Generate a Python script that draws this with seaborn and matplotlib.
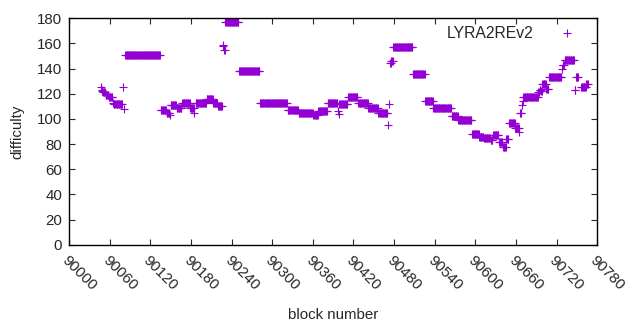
import numpy as np
import pandas as pd

import matplotlib
matplotlib.use("Agg")
import matplotlib.pyplot as plt
import matplotlib.transforms as mtransforms
import seaborn as sns

# ==========================================
# DATA (runs of equal difficulty)
# ==========================================

run_start = [90047, 90048, 90049, 90050, 90054, 90059, 90065, 90066, 90080, 90081,
             90083, 90135, 90144, 90149, 90150, 90159, 90167, 90179, 90185, 90187,
             90203, 90213, 90220, 90227, 90228, 90229, 90231, 90251, 90282, 90323,
             90339, 90361, 90368, 90382, 90397, 90398, 90399, 90412, 90427, 90442,
             90457, 90471, 90473, 90474, 90476, 90479, 90508, 90526, 90538, 90565,
             90575, 90595, 90606, 90613, 90623, 90626, 90635, 90641, 90646, 90650,
             90659, 90665, 90666, 90669, 90670, 90671, 90693, 90695, 90697, 90699,
             90705, 90709, 90728, 90729, 90732, 90747, 90749, 90756, 90764]
run_end = [90047, 90048, 90049, 90053, 90058, 90064, 90065, 90078, 90080, 90081,
           90134, 90143, 90148, 90149, 90158, 90166, 90178, 90184, 90185, 90202,
           90212, 90219, 90226, 90227, 90228, 90230, 90250, 90281, 90322, 90338,
           90360, 90367, 90381, 90396, 90397, 90398, 90411, 90426, 90441, 90456,
           90470, 90471, 90473, 90475, 90478, 90507, 90525, 90537, 90564, 90574,
           90594, 90605, 90612, 90622, 90625, 90634, 90640, 90645, 90649, 90658,
           90664, 90665, 90668, 90669, 90670, 90692, 90694, 90696, 90698, 90704,
           90708, 90727, 90728, 90731, 90746, 90748, 90752, 90763, 90766]
run_value = [125, 123, 122, 121, 119, 117, 113, 112, 125, 108,
             151, 107, 105, 103, 111, 109, 113, 109, 105, 113,
             116, 113, 110, 158, 159, 155, 177, 138, 113, 107,
             105, 103, 106, 113, 106, 104, 112, 117, 113, 109,
             105, 95, 112, 144, 146, 157, 136, 114, 109, 102,
             99, 88, 86, 85, 83, 87, 82, 78, 84, 97,
             93, 90, 105, 111, 114, 117, 121, 123, 122, 128,
             124, 133, 140, 143, 147, 123, 133, 125, 128]

blocks = np.concatenate([np.arange(s, e + 1) for s, e in zip(run_start, run_end)])
difficulty = np.concatenate([np.full(e - s + 1, v) for s, e, v in zip(run_start, run_end, run_value)])

df = pd.DataFrame({"block": blocks, "difficulty": difficulty})

x_ticks = list(range(90000, 90781, 60))
y_ticks = list(range(0, 181, 20))

# ==========================================
# PLOT
# ==========================================

sns.set_style("ticks")
plt.rcParams["font.family"] = ["Liberation Sans", "DejaVu Sans"]

fig = plt.figure(figsize=(6.4, 3.3), dpi=100)
ax = fig.add_axes([0.108, 0.258, 0.825, 0.687])

sns.scatterplot(
    data=df,
    x="block",
    y="difficulty",
    marker="+",
    s=28,
    linewidth=0.8,
    color="#9400d3",
    label="LYRA2REv2",
    ax=ax
)

ax.set_xlim(90000, 90780)
ax.set_ylim(0, 180)
ax.set_xticks(x_ticks)
ax.set_yticks(y_ticks)
ax.set_xticklabels([str(t) for t in x_ticks], rotation=-45, ha="left", va="top",
                   rotation_mode="anchor", fontsize=10.8)
ax.set_yticklabels([str(t) for t in y_ticks], fontsize=10.8)

# gnuplot puts the rotated labels just right of the tick
shift = mtransforms.ScaledTranslation(4 / 100, 0, fig.dpi_scale_trans)
for lbl in ax.get_xticklabels():
    lbl.set_transform(lbl.get_transform() + shift)

ax.tick_params(direction="in", length=4, width=0.8, top=True, right=True, pad=5)
ax.tick_params(axis="x", pad=6)
for sp in ax.spines.values():
    sp.set_linewidth(1.0)
    sp.set_color("black")

ax.set_xlabel("block number", fontsize=10.8, labelpad=11)
ax.set_ylabel("difficulty", fontsize=10.8, labelpad=9)

ax.legend(loc="center right", bbox_to_anchor=(0.973, 0.934), frameon=False,
          markerfirst=False, fontsize=11.3, handletextpad=1.17,
          borderaxespad=0, borderpad=0, markerscale=1.0)

fig.savefig("out.png", dpi=100)
